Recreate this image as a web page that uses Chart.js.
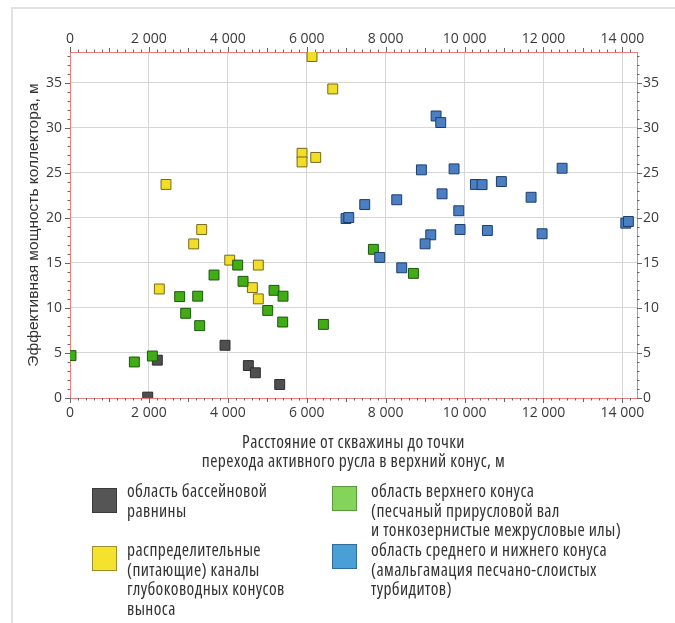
<!DOCTYPE html>
<html lang="ru">
<head>
<meta charset="utf-8">
<title>Эффективная мощность коллектора</title>
<script src="https://cdn.jsdelivr.net/npm/chart.js@4.4.1/dist/chart.umd.min.js"></script>
<style>
  html, body { margin: 0; padding: 0; background: #fff; }
  body { width: 675px; height: 623px; position: relative; overflow: hidden; font-family: 'Open Sans', sans-serif; color: #333; }
  .frame { position: absolute; left: 11px; top: 7px; width: 700px; height: 700px; border-left: 2px solid #e2e2e2; border-top: 2px solid #e2e2e2; }
  .chart-box { position: absolute; left: 0; top: 0; width: 675px; height: 480px; }
  .cond { font-family: 'Open Sans', sans-serif; font-stretch: 75%; font-size: 17.5px; letter-spacing: 0.4px; color: #333; }
  .x-title { position: absolute; left: 70px; width: 567px; top: 432px; text-align: center; line-height: 18.5px; }
  .legend-item { position: absolute; line-height: 19.5px; }
  .legend-item .sw { position: absolute; left: 0; width: 23px; height: 23px; border: 1px solid #666; }
  .legend-item .txt { position: absolute; white-space: nowrap; }
</style>
</head>
<body>
<div class="frame"></div>
<div class="chart-box"><canvas id="scatter"></canvas></div>
<div class="x-title cond" id="xTitle"></div>
<div id="legend"></div>
<script>
// Points: [distance, m ; effective thickness, m]
const basinX = [1970, 2213, 3929, 4520, 4698, 5315];
const basinY = [0.1, 4.2, 5.85, 3.6, 2.8, 1.5];

const channelX = [6134, 6659, 5881, 5881, 6228, 2433, 2264, 3135, 3338, 4048, 4773, 4622, 4773];
const channelY = [37.9, 34.3, 27.16, 26.2, 26.7, 23.7, 12.1, 17.1, 18.7, 15.3, 14.75, 12.25, 11.0];

const upperX = [25, 1631, 2087, 2780, 2932, 3236, 3287, 3650, 4250, 4385, 5011, 5171, 5399, 5391, 6422, 7689, 8703];
const upperY = [4.7, 4.0, 4.66, 11.25, 9.4, 11.3, 8.03, 13.65, 14.75, 12.95, 9.72, 11.95, 11.3, 8.43, 8.17, 16.5, 13.83];

const lowerX = [9278, 9396, 8906, 9734, 12472, 10274, 10444, 10933, 9430, 11686, 7470, 8281, 6996, 7065, 9853, 9886, 10578, 11965, 14086, 14152, 9143, 8999, 7850, 8407];
const lowerY = [31.3, 30.57, 25.32, 25.43, 25.5, 23.7, 23.68, 24.02, 22.66, 22.28, 21.47, 22.0, 19.92, 20.03, 20.78, 18.7, 18.59, 18.23, 19.4, 19.59, 18.11, 17.11, 15.6, 14.45];

const seriesLabels = [
  ['область бассейновой', 'равнины'],
  ['распределительные', '(питающие) каналы', 'глубоководных конусов', 'выноса'],
  ['область верхнего конуса', '(песчаный прирусловой вал', 'и тонкозернистые межрусловые илы)'],
  ['область среднего и нижнего конуса', '(амальгамация песчано-слоистых', 'турбидитов)']
];

const xTitle = ['Расстояние от скважины до точки', 'перехода активного русла в верхний конус, м'];
const yTitle = 'Эффективная мощность коллектора, м';

const xTicks = [0, 2000, 4000, 6000, 8000, 10000, 12000, 14000];
const yTicks = [0, 5, 10, 15, 20, 25, 30, 35];

const X_MAX = 14370;
const Y_MAX = 38.4;

const AXIS_RED = '#f27c7c';
const GRID = '#d6d6d6';
const TICK_TEXT = '#3a3a3a';

const pts = (xs, ys) => xs.map((x, i) => ({ x: x, y: ys[i] }));
const fmt = (v) => String(v).replace(/\B(?=(\d{3})+(?!\d))/g, ' ');
const setTicks = (vals) => (s) => { s.ticks = vals.map((v) => ({ value: v })); };

function squareSet(label, data, fill, border, order) {
  return {
    label: label,
    data: data,
    pointStyle: 'rect',
    pointRadius: 7,
    pointHoverRadius: 7,
    backgroundColor: fill,
    borderColor: border,
    borderWidth: 1,
    order: order,
  };
}

// small tick marks outside the plot frame, on all four sides
const minorTicks = {
  id: 'minorTicks',
  afterDraw(chart) {
    const { ctx, chartArea: a, scales } = chart;
    ctx.save();
    ctx.strokeStyle = '#666';
    ctx.lineWidth = 1;
    ctx.beginPath();
    for (let v = 0; v <= X_MAX; v += 200) {
      const px = Math.round(scales.x.getPixelForValue(v)) + 0.5;
      const len = v % 2000 === 0 ? 5 : (v % 1000 === 0 ? 4 : 2.5);
      ctx.moveTo(px, a.bottom); ctx.lineTo(px, a.bottom + len);
      ctx.moveTo(px, a.top); ctx.lineTo(px, a.top - len);
    }
    for (let v = 0; v <= Y_MAX; v += 1) {
      const py = Math.round(scales.y.getPixelForValue(v)) + 0.5;
      const len = v % 5 === 0 ? 5 : 2.5;
      ctx.moveTo(a.left, py); ctx.lineTo(a.left - len, py);
      ctx.moveTo(a.right, py); ctx.lineTo(a.right + len, py);
    }
    ctx.stroke();
    ctx.restore();
  }
};

const tickFont = { family: 'Open Sans', size: 14 };

function xScale(position, height, padding, withGrid) {
  return {
    type: 'linear',
    position: position,
    min: 0,
    max: X_MAX,
    afterBuildTicks: setTicks(xTicks),
    afterFit: (s) => { s.height = height; },
    ticks: { autoSkip: false, maxRotation: 0, padding: padding, color: TICK_TEXT, font: tickFont, callback: (v) => fmt(v) },
    grid: { color: GRID, drawTicks: false, drawOnChartArea: withGrid },
    border: { color: AXIS_RED, width: 1 },
  };
}

function yScale(position, width, padding, withGrid) {
  return {
    type: 'linear',
    position: position,
    min: 0,
    max: Y_MAX,
    afterBuildTicks: setTicks(yTicks),
    afterFit: (s) => { s.width = width; },
    ticks: { autoSkip: false, padding: padding, color: TICK_TEXT, font: tickFont },
    grid: { color: GRID, drawTicks: false, drawOnChartArea: withGrid },
    border: { color: AXIS_RED, width: 1 },
  };
}

const yLeft = yScale('left', 70, 8, true);
yLeft.title = {
  display: true,
  text: yTitle,
  color: '#333',
  font: { family: 'Liberation Sans', size: 15.5 },
  padding: { top: 24, bottom: 0 },
};

new Chart(document.getElementById('scatter'), {
  type: 'scatter',
  data: {
    datasets: [
      squareSet(seriesLabels[0].join(' '), pts(basinX, basinY), '#4f4f4f', '#2b2b2b', 4),
      squareSet(seriesLabels[1].join(' '), pts(channelX, channelY), '#f3de27', '#75691c', 3),
      squareSet(seriesLabels[2].join(' '), pts(upperX, upperY), '#40ad16', '#1d560a', 2),
      squareSet(seriesLabels[3].join(' '), pts(lowerX, lowerY), '#4a80c3', '#1e3d66', 1),
    ],
  },
  options: {
    responsive: true,
    maintainAspectRatio: false,
    animation: false,
    layout: { padding: 0 },
    plugins: {
      legend: { display: false },
      tooltip: { enabled: false },
    },
    scales: {
      x: xScale('bottom', 82, 7, true),
      x2: xScale('top', 52, 5, false),
      y: yLeft,
      y2: yScale('right', 38, 6, false),
    },
  },
  plugins: [minorTicks],
});

// x axis title in narrower type, as in the source figure
document.getElementById('xTitle').innerHTML = xTitle.join('<br>');

// legend below the chart, two columns
const legendSwatches = ['#555555', '#f5e22f', '#84d35a', '#4aa0d6'];
const legendBorders = ['#3a3a3a', '#9a8d2a', '#5a9a3a', '#2f6e98'];
const legendPos = [
  { left: 92, top: 488, textLeft: 35, textTop: -7 },
  { left: 92, top: 546, textLeft: 35, textTop: -6 },
  { left: 332, top: 486, textLeft: 39, textTop: -5 },
  { left: 332, top: 544, textLeft: 39, textTop: -4 },
];
const legendEl = document.getElementById('legend');
seriesLabels.forEach((lines, i) => {
  const p = legendPos[i];
  const item = document.createElement('div');
  item.className = 'legend-item cond';
  item.style.left = p.left + 'px';
  item.style.top = p.top + 'px';
  const sw = document.createElement('div');
  sw.className = 'sw';
  sw.style.background = legendSwatches[i];
  sw.style.borderColor = legendBorders[i];
  const txt = document.createElement('div');
  txt.className = 'txt';
  txt.style.left = p.textLeft + 'px';
  txt.style.top = p.textTop + 'px';
  txt.innerHTML = lines.join('<br>');
  item.appendChild(sw);
  item.appendChild(txt);
  legendEl.appendChild(item);
});
</script>
</body>
</html>
